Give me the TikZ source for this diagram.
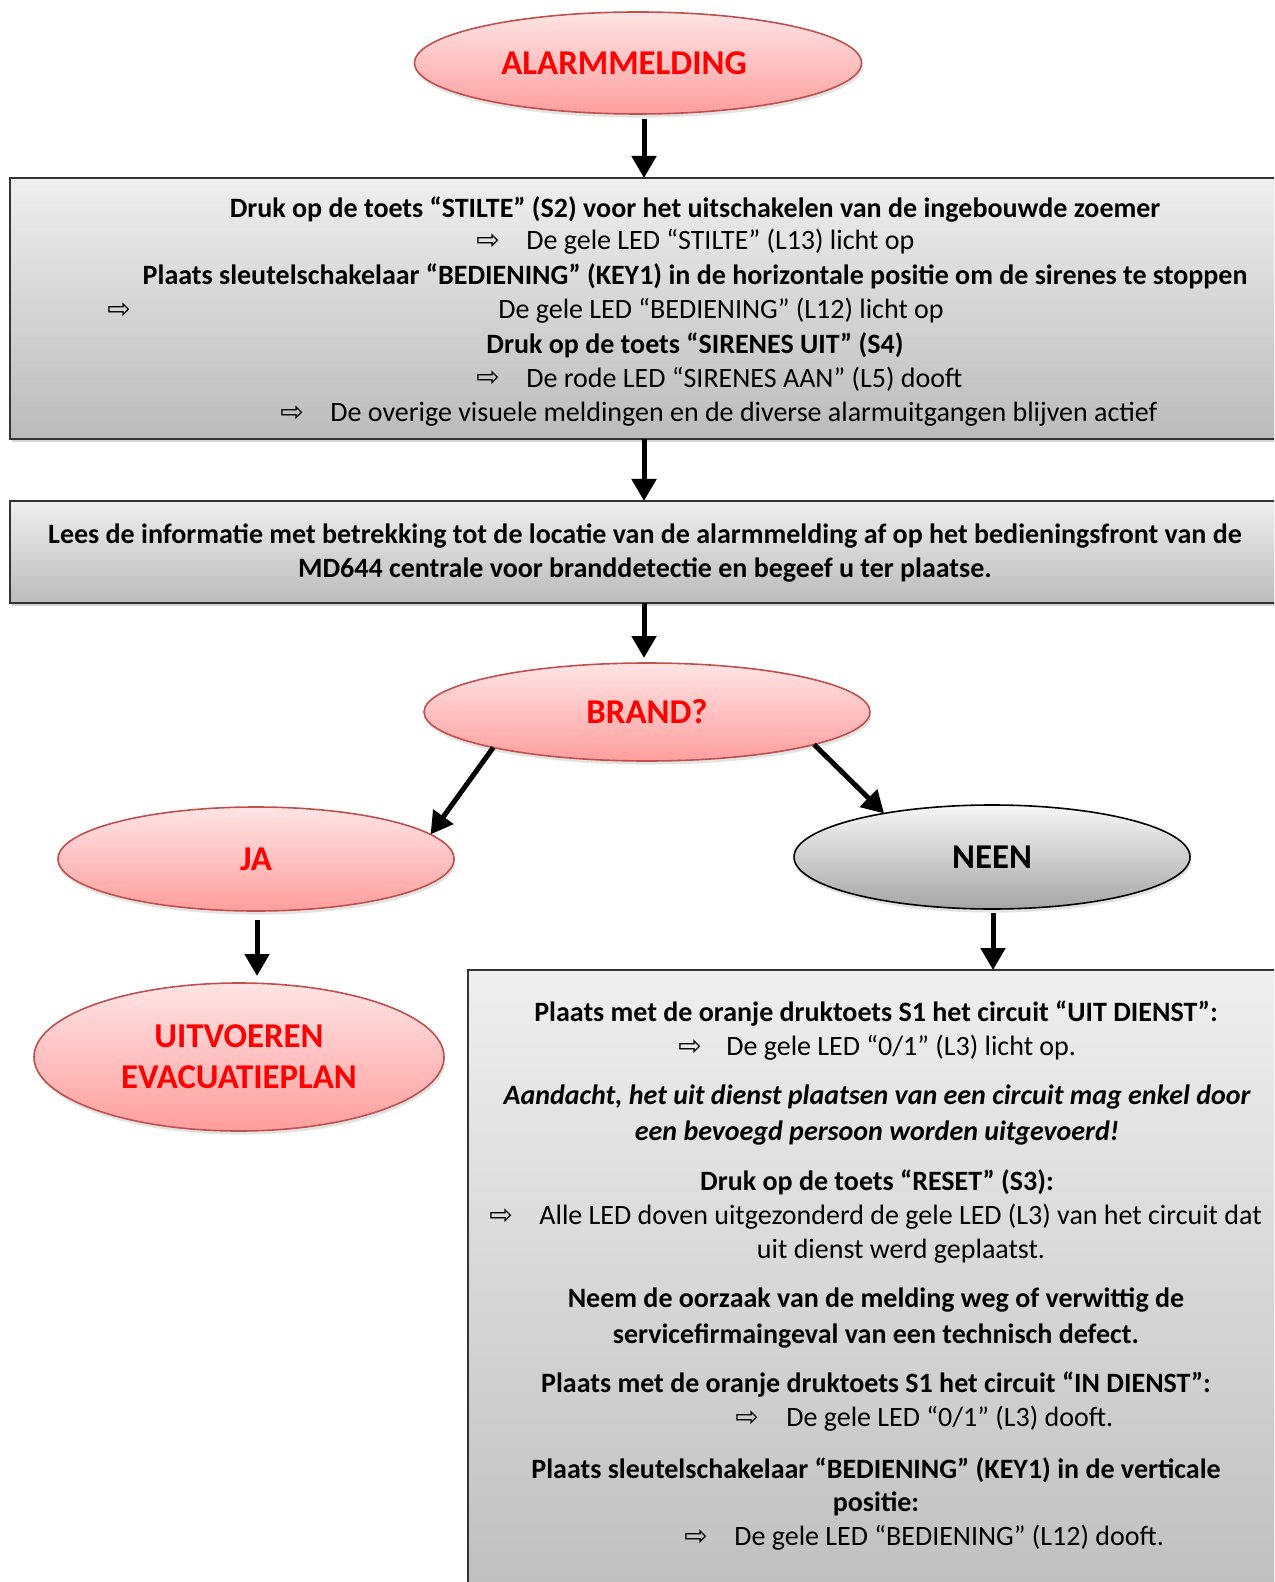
\documentclass[tikz,border=0pt]{standalone}
\usepackage{fontspec}
\setmainfont{Carlito}
\newfontfamily\symf{DejaVu Sans}
\usetikzlibrary{shapes.geometric,arrows.meta,shadows}
\definecolor{pinktop}{HTML}{FFE4E4}
\definecolor{pinkbot}{HTML}{FF9E9E}
\definecolor{pinkedge}{HTML}{C0504D}
\definecolor{redtxt}{HTML}{FF0000}
\definecolor{boxtop}{HTML}{EFEFEF}
\definecolor{boxbot}{HTML}{BBBBBB}
\definecolor{greytop}{HTML}{F6F6F6}
\definecolor{greybot}{HTML}{A6A6A6}
\begin{document}
\begin{tikzpicture}[x=0.5pt,y=-0.5pt,
  pinkell/.style={ellipse, draw=pinkedge, line width=0.8pt, top color=pinktop, bottom color=pinkbot,
    inner sep=0pt, outer sep=0pt, text=redtxt, align=center,
    font=\fontsize{17.4}{20.5}\selectfont\bfseries,
    drop shadow={shadow xshift=0.6pt, shadow yshift=-1.8pt, opacity=0.22}},
  greyell/.style={ellipse, draw=black, line width=0.8pt, top color=greytop, bottom color=greybot,
    inner sep=0pt, outer sep=0pt, text=black,
    font=\fontsize{17.4}{20.5}\selectfont\bfseries,
    drop shadow={shadow xshift=0.6pt, shadow yshift=-1.8pt, opacity=0.22}},
  greybox/.style={rectangle, draw=black!80, line width=1pt, top color=boxtop, bottom color=boxbot,
    inner sep=0pt, outer sep=0pt, anchor=north west,
    drop shadow={shadow xshift=1pt, shadow yshift=-1.5pt, opacity=0.35}},
  txt/.style={inner sep=0pt, font=\fontsize{14}{17}\selectfont},
  btxt/.style={txt, font=\fontsize{14}{17}\selectfont\bfseries},
  itxt/.style={txt, font=\fontsize{14}{17}\selectfont\bfseries\itshape},
  arr/.style={inner sep=0pt, font=\fontsize{14}{16}\symf},
  conn/.style={line width=2.5pt, -{Triangle[width=12pt,length=11pt]}}
]
\useasboundingbox (0,0) rectangle (1274,1582);
\clip (0,0) rectangle (1274,1582);

% shapes
\node[pinkell, minimum width=223.5pt, minimum height=51pt] (alarm) at (638,63) {ALARMMELDING\hspace*{14pt}};
\node[greybox, minimum width=645pt, minimum height=130.5pt] (box1) at (10,178) {};
\node[greybox, minimum width=645pt, minimum height=51pt] (box2) at (10,501) {};
\node[pinkell, minimum width=223pt, minimum height=49pt] (brand) at (647,712) {BRAND?};
\node[pinkell, minimum width=198pt, minimum height=52pt] (ja) at (256,859) {JA};
\node[greyell, minimum width=198pt, minimum height=52pt] (neen) at (992,857) {NEEN};
\node[pinkell, minimum width=205pt, minimum height=74pt] (uit) at (239,1057) {UITVOEREN\\EVACUATIEPLAN};
\node[greybox, minimum width=430pt, minimum height=340pt] (box3) at (468,970) {};

% box 1 text
\node[btxt] (t11) at (695,209) {Druk op de toets “STILTE” (S2) voor het uitschakelen van de ingebouwde zoemer};
\node[arr] (a12) at (488,242) {⇨};
\node[txt, anchor=west] (t12) at (526,242) {De gele LED “STILTE” (L13) licht op};
\node[btxt] (t13) at (695,276) {Plaats sleutelschakelaar “BEDIENING” (KEY1) in de horizontale positie om de sirenes te stoppen};
\node[arr] (a14) at (119,311) {⇨};
\node[txt, anchor=west] (t14) at (498,311) {De gele LED “BEDIENING” (L12) licht op};
\node[btxt] (t15) at (695,345) {Druk op de toets “SIRENES UIT” (S4)};
\node[arr] (a16) at (488,379) {⇨};
\node[txt, anchor=west] (t16) at (526,379) {De rode LED “SIRENES AAN” (L5) dooft};
\node[arr] (a17) at (292,414) {⇨};
\node[txt, anchor=west] (t17) at (330,414) {De overige visuele meldingen en de diverse alarmuitgangen blijven actief};

% box 2 text
\node[btxt] (t21) at (645,536) {Lees de informatie met betrekking tot de locatie van de alarmmelding af op het bedieningsfront van de};
\node[btxt] (t22) at (645,570) {MD644 centrale voor branddetectie en begeef u ter plaatse.};

% box 3 text
\node[btxt] (t31) at (876,1014) {Plaats met de oranje druktoets S1 het circuit “UIT DIENST”:};
\node[arr] (a32) at (690,1048) {⇨};
\node[txt, anchor=west] (t32) at (726,1048) {De gele LED “0/1” (L3) licht op.};
\node[itxt] (t33) at (877,1097) {Aandacht, het uit dienst plaatsen van een circuit mag enkel door};
\node[itxt] (t34) at (877,1133) {een bevoegd persoon worden uitgevoerd!};
\node[btxt] (t35) at (877,1182) {Druk op de toets “RESET” (S3):};
\node[arr] (a36) at (501,1217) {⇨};
\node[txt, anchor=west] (t36) at (539,1217) {Alle LED doven uitgezonderd de gele LED (L3) van het circuit dat};
\node[txt] (t37) at (901,1251) {uit dienst werd geplaatst.};
\node[btxt] (t38) at (876,1300) {Neem de oorzaak van de melding weg of verwittig de};
\node[btxt] (t39) at (876,1336) {servicefirmaingeval van een technisch defect.};
\node[btxt] (t310) at (876,1385) {Plaats met de oranje druktoets S1 het circuit “IN DIENST”:};
\node[arr] (a311) at (747,1419) {⇨};
\node[txt, anchor=west] (t311) at (786,1419) {De gele LED “0/1” (L3) dooft.};
\node[btxt] (t312) at (876,1470) {Plaats sleutelschakelaar “BEDIENING” (KEY1) in de verticale};
\node[btxt] (t313) at (876,1504) {positie:};
\node[arr] (a314) at (696,1538) {⇨};
\node[txt, anchor=west] (t314) at (734,1538) {De gele LED “BEDIENING” (L12) dooft.};

% connectors
\draw[conn, shorten <=2.5pt] ([xshift=3pt]alarm.south) -- ([xshift=3pt]alarm.south |- box1.north);
\draw[conn] ([xshift=3pt]alarm.south |- box1.south) -- ([xshift=3pt]alarm.south |- box2.north);
\draw[conn, shorten >=2.5pt] ([xshift=3pt]alarm.south |- box2.south) -- ([xshift=3pt]alarm.south |- brand.north);
\draw[conn] (brand.193) -- (ja.8);
\draw[conn] (brand.349) -- (neen.158);
\draw[conn, shorten <=4.5pt, shorten >=3.5pt] ([xshift=0.5pt]ja.south) -- ([xshift=0.5pt]ja.south |- uit.north);
\draw[conn, shorten <=2pt] ([xshift=0.5pt]neen.south) -- ([xshift=0.5pt]neen.south |- box3.north);
\end{tikzpicture}
\end{document}
